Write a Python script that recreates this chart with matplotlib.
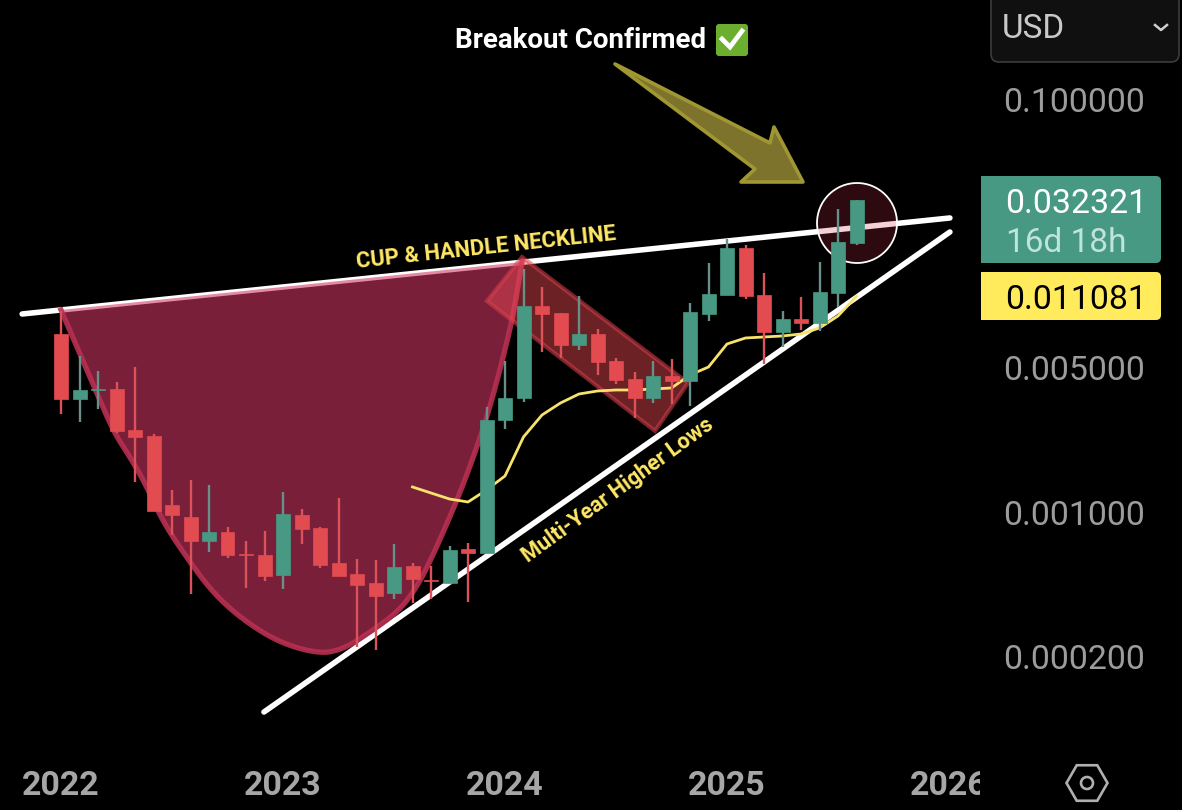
import numpy as np
import matplotlib
matplotlib.use('Agg')
import matplotlib.pyplot as plt
from matplotlib.patches import Polygon, Circle, Rectangle, FancyBboxPatch, RegularPolygon
from matplotlib.transforms import Affine2D, Bbox

plt.rcParams['font.family'] = ['Roboto', 'DejaVu Sans']

# monthly candles, Jan 2022 = month 0
opens = [0.007279, 0.003526, 0.003898, 0.003942, 0.002496, 0.002335, 0.001081, 0.000946, 0.000724, 0.000800, 0.000626,
         0.000620, 0.000496, 0.000968, 0.000837, 0.000567, 0.000501, 0.000454, 0.000405, 0.000548, 0.000469, 0.000454,
         0.000662, 0.000633, 0.002790, 0.003566, 0.009942, 0.009199, 0.006439, 0.007279, 0.005387, 0.004407, 0.003566,
         0.004557, 0.004310, 0.009097, 0.01125, 0.01899, 0.01125, 0.007443, 0.008604, 0.008228, 0.01150, 0.02008]
closes = [0.003526, 0.003898, 0.003942, 0.002468, 0.002309, 0.001012, 0.000968, 0.000724, 0.000800, 0.000620, 0.000620,
          0.000490, 0.000978, 0.000828, 0.000554, 0.000490, 0.000444, 0.000392, 0.000542, 0.000474, 0.000464, 0.000655,
          0.000633, 0.002790, 0.003566, 0.009942, 0.009097, 0.006439, 0.007279, 0.005327, 0.004358, 0.003566, 0.004557,
          0.004310, 0.009302, 0.01137, 0.01899, 0.01112, 0.007443, 0.008604, 0.008228, 0.01163, 0.02030, 0.032321]
highs = [0.009406, 0.005695, 0.004818, 0.004262, 0.005038, 0.002387, 0.001278, 0.001429, 0.001352, 0.000846, 0.000724,
         0.000809, 0.001250, 0.001034, 0.000846, 0.001169, 0.000592, 0.000586, 0.000700, 0.000567, 0.000548, 0.000685,
         0.000708, 0.003225, 0.005387, 0.01502, 0.01229, 0.009199, 0.01112, 0.007695, 0.005570, 0.004764, 0.005387,
         0.005508, 0.01028, 0.01606, 0.02099, 0.01964, 0.01437, 0.009406, 0.01100, 0.01624, 0.02933, 0.03243]
lows = [0.002983, 0.002728, 0.003154, 0.002414, 0.001397, 0.001012, 0.000774, 0.000401, 0.000641, 0.000599, 0.000429,
        0.000464, 0.000424, 0.000700, 0.000536, 0.000490, 0.000222, 0.000215, 0.000379, 0.000363, 0.000379, 0.000454,
        0.000367, 0.000633, 0.002524, 0.003410, 0.005955, 0.005570, 0.006089, 0.004608, 0.004168, 0.002853, 0.003372,
        0.003335, 0.003261, 0.008413, 0.01125, 0.01075, 0.005210, 0.006297, 0.007611, 0.007527, 0.009832, 0.01964]

# moving average, starts at month 19
ema_months = list(range(19, 44))
ema_values = [0.001322, 0.001236, 0.001156, 0.001118, 0.001278, 0.001495, 0.002309, 0.002950, 0.003372, 0.003728,
              0.003855, 0.003898, 0.003898, 0.003942, 0.003986, 0.004608, 0.005038, 0.006511, 0.006962, 0.007039,
              0.007119, 0.007279, 0.007782, 0.008897, 0.011081]

# hand drawn trend lines (month, price)
neck_months = [-2.1, 48.05]
neck_prices = [0.009097, 0.02654]
rise_months = [10.97, 48.05]
rise_prices = [0.0001075, 0.02270]

price_ticks = [0.1, 0.005, 0.001, 0.0002]
price_labels = ['0.100000', '0.005000', '0.001000', '0.000200']
year_ticks = [0, 12, 24, 36, 48]
year_labels = ['2022', '2023', '2024', '2025', '2026']

GREEN = '#479983'
RED = '#e24b50'
YELLOW = '#ffe866'

W, H = 1182, 810
fig = plt.figure(figsize=(W / 100, H / 100), dpi=100, facecolor='black')
ax = fig.add_axes([0, 0, 1, 1], facecolor='black')
for s in ax.spines.values():
    s.set_visible(False)

# axis scale: 18.5 px a month, 206.5 px a decade
ax.set_yscale('log')
ax.set_xlim(-61 / 18.5, (W - 61) / 18.5)
ax.set_ylim(10 ** (-1 - (H - 99) / 206.5), 10 ** (-1 + 99 / 206.5))
ax.yaxis.tick_right()
ax.set_yticks(price_ticks)
ax.set_yticklabels(price_labels)
ax.minorticks_off()
ax.set_xticks(year_ticks)
ax.set_xticklabels(year_labels)
ax.tick_params(axis='y', length=0, pad=-128.6, labelsize=24.4, labelcolor='#9c9c9c')
ax.tick_params(axis='x', length=0, pad=-29, labelsize=24.5, labelcolor='#a6a6a6')
for lab in ax.get_xticklabels():
    lab.set_fontweight('bold')
    lab.set_clip_on(True)
    lab.set_clip_box(Bbox([[0, 0], [980, H]]))

# screen pixels for the drawing tool shapes and the side panel
px = Affine2D().scale(1, -1).translate(0, H)


def chaikin(pts, n=4):
    pts = np.array(pts, dtype=float)
    for _ in range(n):
        a = pts[:-1] * 0.75 + pts[1:] * 0.25
        b = pts[:-1] * 0.25 + pts[1:] * 0.75
        mid = np.empty((len(a) * 2, 2))
        mid[0::2] = a
        mid[1::2] = b
        pts = np.vstack([pts[0], mid, pts[-1]])
    return pts


ax.plot(neck_months, neck_prices, color='white', lw=4, solid_capstyle='round', zorder=2)
ax.plot(rise_months, rise_prices, color='white', lw=4, solid_capstyle='round', zorder=2)

# cup
cup_pts = [(61, 310), (90, 377), (113, 431), (130, 457), (145, 483), (163, 522), (187, 558), (213, 593), (243, 620),
           (280, 643), (320, 654), (343, 649), (363, 637), (397, 613), (415, 590), (430, 562), (453, 510), (470, 467),
           (487, 417), (500, 370), (513, 317), (522, 262)]
cup = chaikin(cup_pts)
ax.add_patch(Polygon(cup, closed=True, transform=px, facecolor=(0.82, 0.21, 0.39, 0.58), edgecolor='none', zorder=3))
ax.plot(cup[:, 0], cup[:, 1], transform=px, color=(0.72, 0.19, 0.32, 0.9), lw=3.8, zorder=3)

# handle channel
handle = [(522, 257), (487, 301), (655, 431), (688, 383)]
ax.add_patch(Polygon(handle, closed=True, transform=px, facecolor=(0.94, 0.29, 0.33, 0.45),
                     edgecolor=(0.85, 0.25, 0.3, 0.55), lw=3, joinstyle='miter', zorder=3))

# breakout circle
ax.add_patch(Circle((857, 223), 40, transform=px, facecolor=(0.8, 0.18, 0.27, 0.22), edgecolor='none', zorder=3))
ax.add_patch(Circle((857, 223), 40, transform=px, facecolor='none', edgecolor='white', lw=1.3, zorder=3))

# arrow
arrow = [(615, 64), (770, 143), (774, 127), (803, 182), (741, 182), (755, 169)]
ax.add_patch(Polygon(arrow, closed=True, transform=px, facecolor='#7d732c', edgecolor='#a09632', lw=2.6,
                     joinstyle='round', zorder=3))

ax.plot(ema_months, ema_values, color='#f7e36b', lw=2, zorder=3.5)

# candles
months = np.arange(len(opens))
o = np.array(opens)
c = np.array(closes)
up = c >= o
ax.vlines(months[up], np.array(lows)[up], np.array(highs)[up], color='#67908a', lw=1.7, zorder=3.9)
ax.vlines(months[~up], np.array(lows)[~up], np.array(highs)[~up], color='#dc5259', lw=1.7, zorder=3.9)
ax.bar(months, np.abs(c - o), bottom=np.minimum(o, c), width=14 / 18.5, color=[GREEN if u else RED for u in up],
       edgecolor=[GREEN if u else RED for u in up], lw=0.5, zorder=4)

# drawn labels
ax.text(486, 248, 'CUP & HANDLE NECKLINE', transform=px, color=YELLOW, fontsize=15.8, fontweight='bold', rotation=6.2,
        rotation_mode='anchor', ha='center', va='center', zorder=5)
ax.text(618, 490, 'Multi-Year Higher Lows', transform=px, color=YELLOW, fontsize=15.7, fontweight='bold', rotation=36,
        rotation_mode='anchor', ha='center', va='center', zorder=5)
ax.text(455, 41, 'Breakout Confirmed', transform=px, color='white', fontsize=20, fontweight='bold', ha='left',
        va='center', zorder=5)

# check mark icon
ax.add_patch(FancyBboxPatch((719, 27), 26, 26, boxstyle='round,pad=3,rounding_size=3', transform=px,
                            facecolor='#6cae2e', edgecolor='none', zorder=5))
ax.plot([722, 730, 742], [39, 47, 31], transform=px, color='white', lw=3.4, solid_joinstyle='miter', zorder=6)

# side panel
ax.add_patch(FancyBboxPatch((991, -20), 188, 82, boxstyle='round,pad=0,rounding_size=8', transform=px,
                            facecolor='#101010', edgecolor='#3c3c3c', lw=1.2, zorder=5))
ax.text(1002, 29, 'USD', transform=px, color='#c9c9c9', fontsize=24, ha='left', va='center', zorder=6)
ax.plot([1155, 1161, 1167], [25, 30, 25], transform=px, color='#d0d0d0', lw=1.8, zorder=6)

ax.add_patch(FancyBboxPatch((985, 176), 176, 87, boxstyle='round,pad=0,rounding_size=5', transform=px,
                            facecolor=GREEN, edgecolor='none', zorder=5))
ax.add_patch(Rectangle((981, 176), 30, 87, transform=px, facecolor=GREEN, edgecolor='none', zorder=5))
ax.text(1005, 204, '0.032321', transform=px, color='white', fontsize=24.4, ha='left', va='center', zorder=6)
ax.text(1006, 243, '16d 18h', transform=px, color='#bfe4d9', fontsize=24, ha='left', va='center', zorder=6)

ax.add_patch(FancyBboxPatch((985, 272), 176, 48, boxstyle='round,pad=0,rounding_size=5', transform=px,
                            facecolor='#ffeb5c', edgecolor='none', zorder=5))
ax.add_patch(Rectangle((981, 272), 30, 48, transform=px, facecolor='#ffeb5c', edgecolor='none', zorder=5))
ax.text(1005, 300, '0.011081', transform=px, color='black', fontsize=24.4, ha='left', va='center', zorder=6)

# settings icon
ax.add_patch(RegularPolygon((1087, 783), 6, radius=20.5, orientation=np.pi / 2, transform=px, facecolor='none',
                            edgecolor='#b0b0b0', lw=1.9, zorder=5))
ax.add_patch(Circle((1087, 783), 6, transform=px, facecolor='none', edgecolor='#b0b0b0', lw=1.9, zorder=5))

fig.savefig('out.png', dpi=100, facecolor='black')
